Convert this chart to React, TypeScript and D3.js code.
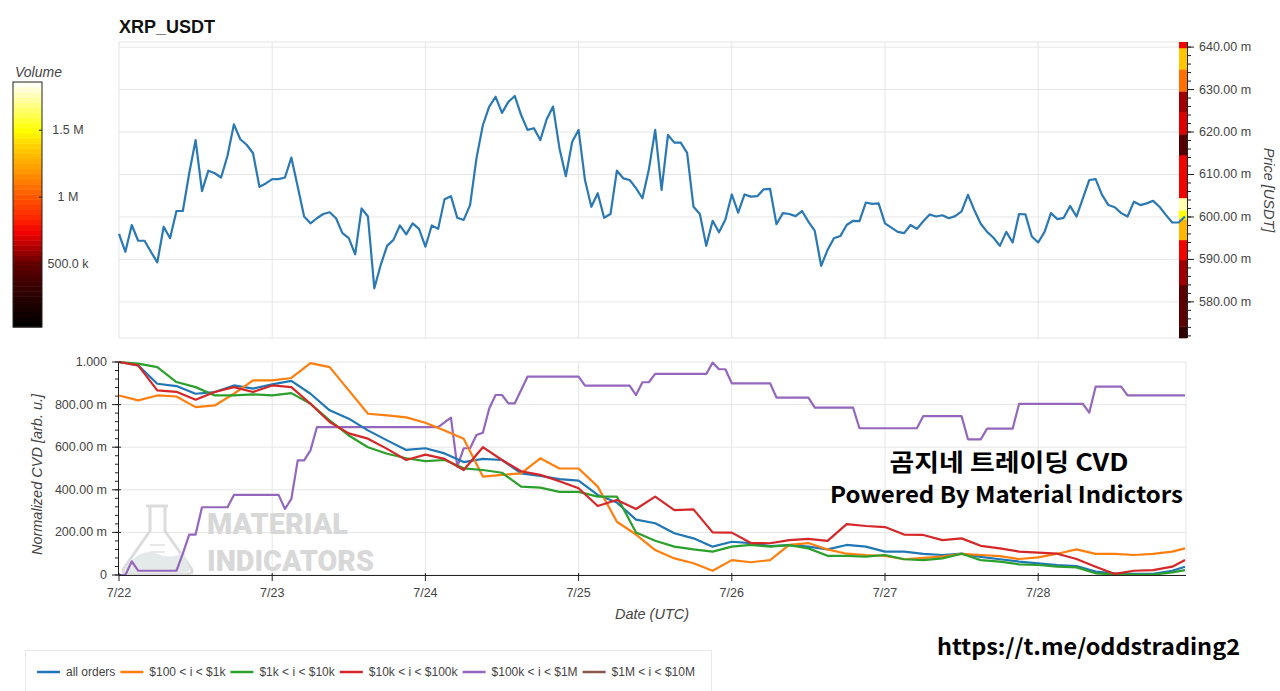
import React from 'react';
import * as d3 from 'd3';

const START = Date.UTC(2024, 6, 22);
const HOUR = 3600 * 1000;

// hourly price, milli-USDT
const price = [
  596.0, 591.8, 598.1, 594.4, 594.4, 591.8, 589.3, 597.7, 595.0, 601.4, 601.4, 610.3,
  618.1, 606.1, 610.9, 610.3, 609.3, 614.4, 621.8, 618.3, 617.0, 615.0, 607.1, 607.9,
  608.9, 608.9, 609.3, 614.0, 607.1, 600.1, 598.5, 599.7, 600.7, 601.1, 599.7, 596.2,
  595.0, 591.2, 602.0, 600.1, 583.2, 588.7, 593.2, 594.6, 598.0, 595.9, 598.5, 597.2,
  593.0, 598.0, 597.2, 604.2, 604.9, 599.8, 599.3, 602.8, 613.8, 621.6, 626.0, 628.3,
  624.5, 627.1, 628.5, 624.0, 620.5, 620.9, 618.1, 623.0, 626.0, 616.2, 609.6, 617.7,
  620.5, 608.7, 602.4, 605.6, 599.8, 600.7, 610.9, 609.1, 608.7, 606.8, 604.4, 611.1,
  620.5, 606.4, 619.3, 617.5, 617.5, 615.1, 602.4, 600.7, 593.2, 599.1, 596.4, 599.4,
  605.3, 601.0, 605.3, 604.8, 604.9, 606.5, 606.6, 598.3, 600.9, 600.7, 600.2, 601.4,
  598.9, 596.7, 588.5, 592.2, 595.0, 595.5, 598.1, 599.1, 599.0, 603.4, 603.1, 603.2,
  598.5, 597.5, 596.5, 596.2, 598.1, 597.2, 599.0, 600.6, 600.1, 600.4, 599.7, 600.2,
  601.3, 605.2, 601.6, 598.4, 596.5, 595.1, 593.2, 596.5, 594.0, 600.7, 600.6, 595.4,
  594.0, 596.5, 600.9, 599.5, 599.8, 602.6, 600.1, 604.4, 608.7, 608.9, 605.2, 602.8,
  602.3, 600.9, 600.1, 603.6, 602.8, 603.2, 603.8, 602.4, 600.5, 598.7, 598.7, 600.1,
];

// volume profile along the price axis
const profileEdges = [571.5, 574.2, 584.0, 589.9, 594.6, 599.5, 601.6, 604.5, 614.6, 619.5, 624.7, 629.6, 634.8, 639.8, 641.2];
const profileVolume = [0.3e6, 0.48e6, 0.6e6, 0.74e6, 1.3e6, 1.5e6, 1.75e6, 0.74e6, 0.45e6, 0.7e6, 0.6e6, 1.08e6, 1.35e6, 0.74e6];

const priceTicks = [580, 590, 600, 610, 620, 630, 640];
const volTicks = [500e3, 1e6, 1.5e6];
const volTickLabels = ['500.0 k', '1 M', '1.5 M'];

// normalized CVD, sampled every 3h
const cvdHours = [0, 3, 6, 9, 12, 15, 18, 21, 24, 27, 30, 33, 36, 39, 42, 45, 48, 51, 54, 57, 60, 63, 66, 69, 72, 75, 78, 81, 84, 87, 90, 93, 96, 99, 102, 105, 108, 111, 114, 117, 120, 123, 126, 129, 132, 135, 138, 141, 144, 147, 150, 153, 156, 159, 162, 165, 167];
const cvdAll = [
  1.0, 0.984, 0.898, 0.887, 0.851, 0.859, 0.89, 0.875, 0.895, 0.911,
  0.851, 0.773, 0.734, 0.679, 0.632, 0.587, 0.595, 0.571, 0.53, 0.545,
  0.54, 0.477, 0.465, 0.45, 0.443, 0.376, 0.34, 0.26, 0.243, 0.196,
  0.172, 0.133, 0.156, 0.15, 0.136, 0.14, 0.133, 0.12, 0.141, 0.133,
  0.11, 0.11, 0.099, 0.094, 0.1, 0.085, 0.074, 0.063, 0.055, 0.047,
  0.042, 0.016, 0.008, 0.005, 0.005, 0.02, 0.039,
];
const cvd100 = [
  0.843, 0.82, 0.843, 0.838, 0.788, 0.796, 0.851, 0.914, 0.914, 0.925,
  0.995, 0.976, 0.867, 0.757, 0.749, 0.74, 0.715, 0.678, 0.64, 0.462,
  0.47, 0.477, 0.548, 0.5, 0.5, 0.415, 0.25, 0.19, 0.117, 0.078,
  0.055, 0.02, 0.07, 0.06, 0.07, 0.141, 0.15, 0.12, 0.1, 0.094,
  0.09, 0.074, 0.08, 0.086, 0.099, 0.094, 0.089, 0.075, 0.083, 0.1,
  0.12, 0.099, 0.099, 0.094, 0.099, 0.11, 0.125,
];
const cvd1k = [
  1.0, 0.992, 0.976, 0.906, 0.882, 0.843, 0.843, 0.848, 0.843, 0.854,
  0.804, 0.726, 0.655, 0.6, 0.569, 0.548, 0.535, 0.54, 0.501, 0.493,
  0.48, 0.415, 0.41, 0.39, 0.39, 0.368, 0.368, 0.2, 0.161, 0.133,
  0.12, 0.11, 0.133, 0.141, 0.133, 0.14, 0.125, 0.09, 0.09, 0.086,
  0.094, 0.074, 0.07, 0.078, 0.1, 0.07, 0.063, 0.05, 0.047, 0.039,
  0.036, 0.008, 0.003, 0.002, 0.002, 0.012, 0.023,
];
const cvd10k = [
  1.0, 0.984, 0.867, 0.86, 0.823, 0.859, 0.882, 0.859, 0.89, 0.882,
  0.804, 0.718, 0.665, 0.64, 0.592, 0.54, 0.565, 0.545, 0.493, 0.6,
  0.54, 0.487, 0.47, 0.44, 0.407, 0.324, 0.352, 0.31, 0.368, 0.305,
  0.308, 0.2, 0.199, 0.15, 0.149, 0.164, 0.17, 0.16, 0.239, 0.23,
  0.225, 0.19, 0.188, 0.164, 0.172, 0.137, 0.125, 0.11, 0.105, 0.1,
  0.075, 0.039, 0.005, 0.02, 0.023, 0.039, 0.07,
];
// $100k-$1M moves in steps, so keep its own hours
const cvd100kHours = [0, 1, 2, 3, 9, 10, 11, 12, 13, 17, 18, 25, 26, 27, 28, 29, 30, 31, 50, 52, 53, 54, 55, 56, 57, 58, 59, 60, 61, 62, 64, 72, 73, 80, 81, 82, 83, 84, 92, 93, 94, 95, 96, 102, 103, 108, 109, 115, 116, 125, 126, 132, 133, 135, 136, 140, 141, 151, 152, 153, 157, 158, 167];
const cvd100k = [0, 0, 0.064, 0.02, 0.02, 0.1, 0.19, 0.19, 0.318, 0.318, 0.376, 0.376, 0.31, 0.357, 0.538, 0.538, 0.585, 0.694, 0.694, 0.739, 0.509, 0.595, 0.595, 0.657, 0.668, 0.782, 0.845, 0.845, 0.806, 0.806, 0.931, 0.931, 0.889, 0.889, 0.845, 0.905, 0.905, 0.944, 0.944, 0.997, 0.966, 0.966, 0.9, 0.9, 0.833, 0.833, 0.786, 0.786, 0.689, 0.689, 0.746, 0.746, 0.637, 0.637, 0.687, 0.687, 0.803, 0.803, 0.762, 0.884, 0.884, 0.843, 0.843];

const cvdTicks = [0, 0.2, 0.4, 0.6, 0.8, 1.0];
const cvdTickLabels = ['0', '200.00 m', '400.00 m', '600.00 m', '800.00 m', '1.000'];

const series = [
  { name: 'all orders', color: '#1f77b4', hours: cvdHours, values: cvdAll },
  { name: '$100 < i < $1k', color: '#ff7f0e', hours: cvdHours, values: cvd100 },
  { name: '$1k < i < $10k', color: '#2ca02c', hours: cvdHours, values: cvd1k },
  { name: '$10k < i < $100k', color: '#d62728', hours: cvdHours, values: cvd10k },
  { name: '$100k < i < $1M', color: '#9467bd', hours: cvd100kHours, values: cvd100k },
  { name: '$1M < i < $10M', color: '#8c564b', hours: [] as number[], values: [] as number[] },
];
const drawOrder = [4, 0, 1, 2, 3];

const volStops = [0.03e6, 0.27e6, 0.5e6, 0.63e6, 0.73e6, 0.85e6, 1.0e6, 1.2e6, 1.37e6, 1.5e6, 1.72e6, 1.86e6];
const volColors = ['#000000', '#2a0000', '#600000', '#b00000', '#f00000', '#ff2800', '#ff5500', '#ff9900', '#ffcc00', '#ffff00', '#ffff9a', '#ffffff'];

const FONT = "'Liberation Sans', Arial, Helvetica, sans-serif";
const GRID = '#e6e6e6';
const LABEL = '#444';

function textWidth(text: string, font: string) {
  const ctx = document.createElement('canvas').getContext('2d');
  if (!ctx) return text.length * 6;
  ctx.font = font;
  return ctx.measureText(text).width;
}

export default function App() {
  const left = 119, right = 1186;
  const t0 = new Date(START), t1 = new Date(START + 167 * HOUR);
  const x = d3.scaleUtc().domain([t0, t1]).range([left, 1185]);
  const days = d3.utcDay.range(t0, new Date(START + 168 * HOUR));
  const dayFmt = d3.utcFormat('%-m/%-d');

  // top panel
  const pTop = 42, pBot = 338;
  const yP = d3.scaleLinear().domain([571.5, 641.2]).range([pBot, pTop]);
  const priceLine = d3.line<number>()
    .x((_, i) => x(new Date(START + i * HOUR)))
    .y((d) => yP(d));
  const priceMinor = d3.range(572, 642, 2);

  const volColor = d3.scaleLinear<string>().domain(volStops).range(volColors).interpolate(d3.interpolateRgb).clamp(true);

  // volume colorbar
  const cbX = 13, cbW = 29, cbTop = 82, cbBot = 327;
  const yV = d3.scaleLinear().domain([0.03e6, 1.86e6]).range([cbBot, cbTop]);
  const bands = d3.range(0, 48).map((i) => {
    const v0 = 0.03e6 + (i * 1.83e6) / 48;
    const v1 = 0.03e6 + ((i + 1) * 1.83e6) / 48;
    return { y: yV(v1), h: yV(v0) - yV(v1), c: volColor((v0 + v1) / 2) };
  });

  // bottom panel
  const cTop = 362, cBot = 575;
  const yC = d3.scaleLinear().domain([0, 1]).range([cBot, cTop]);
  const cvdLine = d3.line<[number, number]>()
    .x((d) => x(new Date(START + d[0] * HOUR)))
    .y((d) => yC(d[1]));
  const cvdMinor = d3.range(0, 1.0001, 0.04);

  // legend layout
  const legFont = `12px ${FONT}`;
  let lx = 37;
  const legend = series.map((s) => {
    const item = { ...s, lx, tx: lx + 29 };
    lx = lx + 29 + textWidth(s.name, legFont) + 5;
    return item;
  });

  return (
    <svg width={1280} height={691} style={{ position: 'absolute', left: 0, top: 0, background: '#fff' }} fontFamily={FONT}>
      <rect x={0} y={0} width={1280} height={691} fill="#fff" />

      {/* title */}
      <text x={119} y={33} fontSize={18} fontWeight={700} fill="#111">XRP_USDT</text>

      {/* volume colorbar */}
      <text x={15} y={77} fontSize={14} fontStyle="italic" fill={LABEL}>Volume</text>
      {bands.map((b, i) => (
        <rect key={i} x={cbX} y={b.y} width={cbW} height={b.h + 0.5} fill={b.c} />
      ))}
      <rect x={cbX} y={cbTop} width={cbW} height={cbBot - cbTop} fill="none" stroke="#222" strokeWidth={1} />
      {volTicks.map((v, i) => (
        <g key={v}>
          <line x1={cbX + cbW - 3} x2={cbX + cbW} y1={yV(v)} y2={yV(v)} stroke="#222" />
          <text x={68} y={yV(v) + 4} fontSize={12.5} fill={LABEL} textAnchor="middle">{volTickLabels[i]}</text>
        </g>
      ))}

      {/* top panel frame + grid */}
      <rect x={left} y={pTop} width={right - left} height={pBot - pTop} fill="none" stroke={GRID} />
      {priceTicks.map((p) => (
        <line key={p} x1={left} x2={right} y1={yP(p)} y2={yP(p)} stroke={GRID} />
      ))}
      {days.slice(1).map((d) => (
        <line key={+d} x1={x(d)} x2={x(d)} y1={pTop} y2={pBot} stroke={GRID} />
      ))}

      {/* price volume profile strip */}
      {profileVolume.map((v, i) => (
        <rect key={i} x={1179} y={yP(profileEdges[i + 1])} width={8}
          height={yP(profileEdges[i]) - yP(profileEdges[i + 1]) + 0.3} fill={volColor(v)} />
      ))}

      <path d={priceLine(price) || ''} fill="none" stroke="#2a78b4" strokeWidth={2.2} strokeLinejoin="round" />

      {/* right price axis */}
      <line x1={1187.5} x2={1187.5} y1={pTop} y2={pBot} stroke="#222" />
      {priceMinor.map((p) => (
        <line key={p} x1={1187.5} x2={1191} y1={yP(p)} y2={yP(p)} stroke="#222" />
      ))}
      {priceTicks.map((p) => (
        <g key={p}>
          <line x1={1187.5} x2={1194} y1={yP(p)} y2={yP(p)} stroke="#222" />
          <text x={1199} y={yP(p) + 4} fontSize={12.5} fill={LABEL}>{`${p.toFixed(2)} m`}</text>
        </g>
      ))}
      <text transform={`translate(1264, ${(pTop + pBot) / 2}) rotate(90)`} fontSize={14.5} fontStyle="italic"
        fill={LABEL} textAnchor="middle">Price [USDT]</text>

      {/* bottom panel grid */}
      {cvdTicks.map((v) => (
        <line key={v} x1={left} x2={right} y1={yC(v)} y2={yC(v)} stroke={GRID} />
      ))}
      {days.slice(1).map((d) => (
        <line key={+d} x1={x(d)} x2={x(d)} y1={cTop} y2={cBot} stroke={GRID} />
      ))}
      <line x1={right} x2={right} y1={cTop} y2={cBot} stroke={GRID} />

      {/* watermark */}
      <g>
        <path d="M146,506 H168 M150,506 V531 L124,568 Q121,574 128,574 H188 Q194,574 191,568 L165,531 V506"
          fill="none" stroke="#dcdcdc" strokeWidth={3} strokeLinejoin="round" />
        <path d="M132,560 Q145,548 158,554 Q170,560 184,552 L189,567 Q191,572 186,572 H129 Q124,572 126,567 Z" fill="#e4eaea" />
        <line x1={150} x2={165} y1={545} y2={545} stroke="#e0e0e0" strokeWidth={1.5} />
        <line x1={150} x2={165} y1={552} y2={552} stroke="#e0e0e0" strokeWidth={1.5} />
        <text x={207} y={534} fontSize={30} fontWeight={900} fill="#d8d8d8" fontFamily="Roboto, sans-serif"
          textLength={141} lengthAdjust="spacingAndGlyphs">MATERIAL</text>
        <text x={207} y={571} fontSize={30} fontWeight={900} fill="#d8d8d8" fontFamily="Roboto, sans-serif"
          textLength={167} lengthAdjust="spacingAndGlyphs">INDICATORS</text>
      </g>

      {/* CVD lines */}
      {drawOrder.map((k) => {
        const s = series[k];
        const pts = s.hours.map((h, i) => [h, s.values[i]] as [number, number]);
        return (
          <path key={s.name} d={cvdLine(pts) || ''} fill="none" stroke={s.color} strokeWidth={2.2} strokeLinejoin="round" />
        );
      })}

      {/* left CVD axis */}
      <line x1={left - 0.5} x2={left - 0.5} y1={cTop} y2={cBot} stroke="#222" />
      {cvdMinor.map((v, i) => (
        <line key={i} x1={left - 4} x2={left} y1={yC(v)} y2={yC(v)} stroke="#222" />
      ))}
      {cvdTicks.map((v, i) => (
        <g key={v}>
          <line x1={left - 7} x2={left + 2} y1={yC(v)} y2={yC(v)} stroke="#222" />
          <text x={107} y={yC(v) + 4} fontSize={12.5} fill={LABEL} textAnchor="end">{cvdTickLabels[i]}</text>
        </g>
      ))}
      <text transform={`translate(42, ${(cTop + cBot) / 2 + 6}) rotate(-90)`} fontSize={14.5} fontStyle="italic"
        fill={LABEL} textAnchor="middle">Normalized CVD [arb. u.]</text>

      {/* x axis */}
      <line x1={left} x2={right} y1={cBot + 0.5} y2={cBot + 0.5} stroke="#222" />
      {days.map((d) => (
        <g key={+d}>
          <line x1={x(d)} x2={x(d)} y1={cBot - 2} y2={cBot + 6} stroke="#222" />
          <text x={x(d)} y={597} fontSize={12.5} fill={LABEL} textAnchor="middle">{dayFmt(d)}</text>
        </g>
      ))}
      <text x={652} y={619} fontSize={14.5} fontStyle="italic" fill={LABEL} textAnchor="middle">Date (UTC)</text>

      {/* overlay captions */}
      <text x={1009} y={471} fontSize={24} fontWeight={700} fill="#000" textAnchor="middle"
        fontFamily="'Noto Sans CJK KR', sans-serif" textLength={239} lengthAdjust="spacingAndGlyphs">곰지네 트레이딩 CVD</text>
      <text x={830} y={503} fontSize={23} fontWeight={700} fill="#000"
        fontFamily="'Noto Sans CJK KR', sans-serif" textLength={353} lengthAdjust="spacingAndGlyphs">Powered By Material Indictors</text>
      <text x={937} y={655} fontSize={22} fontWeight={700} fill="#000"
        fontFamily="'Noto Sans CJK KR', sans-serif" textLength={303} lengthAdjust="spacingAndGlyphs">https://t.me/oddstrading2</text>

      {/* legend */}
      <rect x={25.5} y={650.5} width={686} height={50} fill="#fff" stroke="#e8e8e8" />
      {legend.map((s) => (
        <g key={s.name}>
          <line x1={s.lx} x2={s.lx + 23} y1={672} y2={672} stroke={s.color} strokeWidth={2.5} />
          <text x={s.tx} y={676} fontSize={12} fill={LABEL}>{s.name}</text>
        </g>
      ))}
    </svg>
  );
}
